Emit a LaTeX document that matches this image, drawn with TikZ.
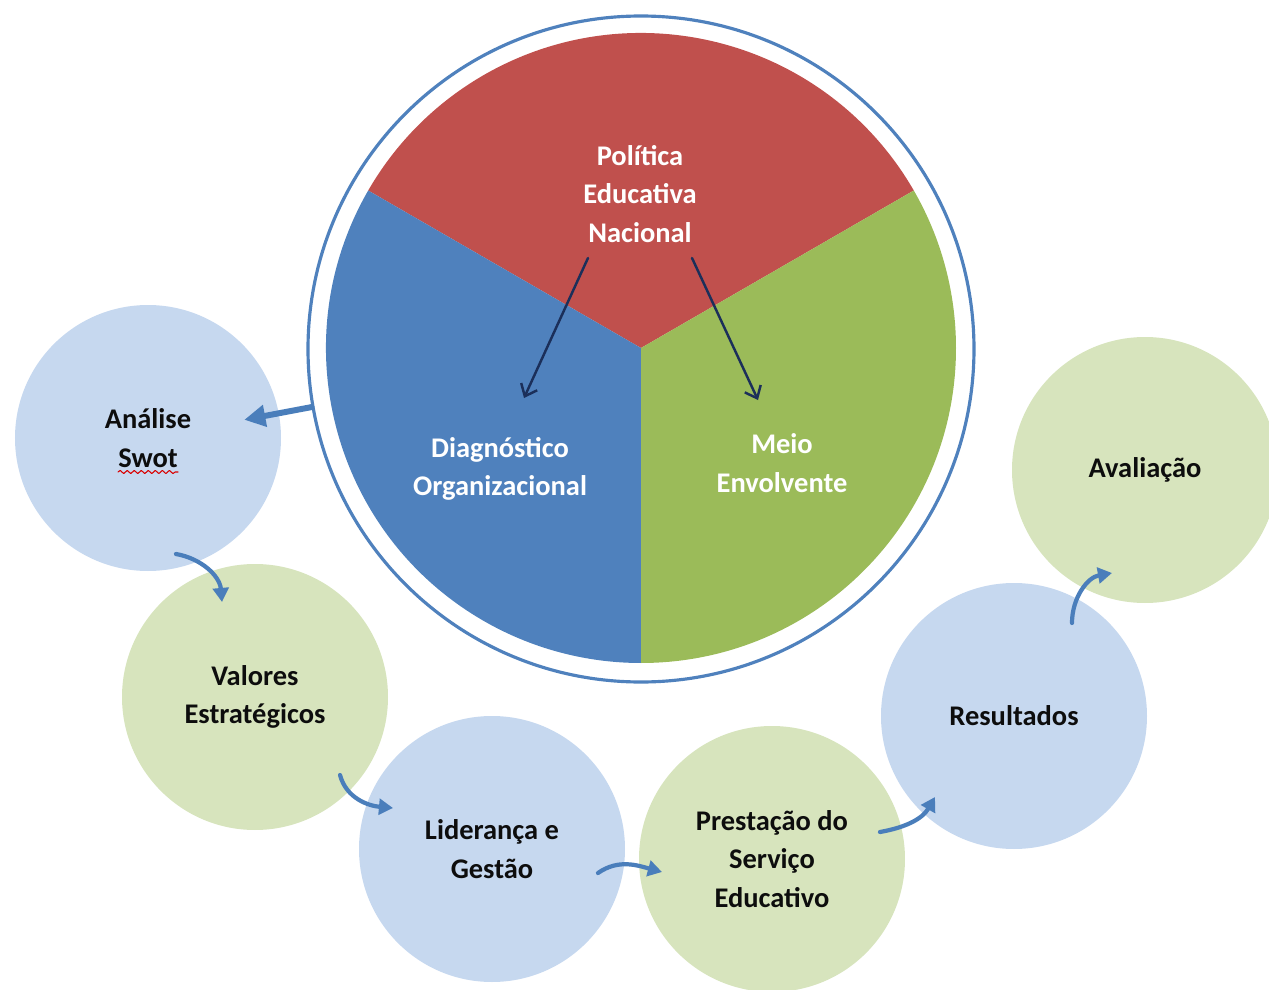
\documentclass[tikz,border=0pt]{standalone}
\usepackage{fontspec}
\setmainfont{Carlito}
\usetikzlibrary{arrows.meta,calc,decorations.pathmorphing}
\definecolor{piered}{HTML}{C0504D}
\definecolor{pieblue}{HTML}{4F81BD}
\definecolor{piegreen}{HTML}{9BBB59}
\definecolor{lblue}{HTML}{C6D8EF}
\definecolor{lgreen}{HTML}{D7E4BD}
\definecolor{arrblue}{HTML}{4A7EBB}
\definecolor{navy}{HTML}{1B2F5A}
\begin{document}
\begin{tikzpicture}[line join=round, line cap=round, >=Stealth,
  font=\fontsize{8.1}{10.9}\selectfont\bfseries,
  bubble/.style={circle, minimum size=2.66cm, inner sep=0pt, align=center, text=black!95},
  bblue/.style={bubble, fill=lblue},
  bgreen/.style={bubble, fill=lgreen},
  pietext/.style={text=white, align=center},
  flow/.style={draw=arrblue, line width=1.2pt, -{Triangle[length=4pt,width=4.5pt]}},
  bigflow/.style={draw=arrblue, line width=1.7pt, -{Triangle[length=6pt,width=6pt]}},
  thin/.style={draw=navy, line width=0.7pt, -{Straight Barb[length=3pt,width=5pt]}}]
\useasboundingbox (0,0) rectangle (12.69,-9.90);
% pie
\coordinate (c) at (6.41,-3.48);
\fill[piered] (c) -- ++(30:3.15) arc(30:150:3.15) -- cycle;
\fill[pieblue] (c) -- ++(150:3.15) arc(150:270:3.15) -- cycle;
\fill[piegreen] (c) -- ++(270:3.15) arc(270:390:3.15) -- cycle;
\node[circle, draw=pieblue, line width=0.9pt, minimum size=6.66cm, inner sep=0pt] (ring) at (6.41,-3.49) {};
\node[pietext] (pol) at (6.40,-1.94) {Política\\Educativa\\Nacional};
\node[pietext] (diag) at (5.00,-4.69) {Diagnóstico\\Organizacional};
\node[pietext] (meio) at (7.82,-4.63) {Meio\\Envolvente};
\draw[thin] ($(pol)+(-0.52,-0.64)$) -- ($(diag)+(0.24,0.71)$);
\draw[thin] ($(pol)+(0.52,-0.64)$) -- ($(meio)+(-0.24,0.63)$);
% cycle
\node[bblue] (swot) at (1.48,-4.38) {Análise\\Swot};
\node[bgreen] (valores) at (2.55,-6.97) {Valores\\Estratégicos};
\node[bblue] (lider) at (4.92,-8.49) {Liderança e\\Gestão};
\node[bgreen] (prest) at (7.72,-8.59) {Prestação do\\Serviço\\Educativo};
\node[bblue] (result) at (10.14,-7.16) {Resultados};
\node[bgreen] (aval) at (11.45,-4.70) {Avaliação};
\draw[red!85!black, line width=0.3pt, decorate, decoration={snake, amplitude=0.45pt, segment length=2pt}]
  ($(swot)+(-0.30,-0.34)$) -- ($(swot)+(0.30,-0.34)$);
\draw[bigflow, shorten >=0.98cm] (ring.190) -- (swot.center);
\draw[flow] ($(swot)+(0.28,-1.16)$) to[out=-10,in=95] ($(valores)+(-0.33,0.95)$);
\draw[flow] ($(valores)+(0.85,-0.78)$) to[out=-75,in=175] ($(lider)+(-0.99,0.41)$);
\draw[flow] ($(lider)+(1.06,-0.24)$) to[out=35,in=165] ($(prest)+(-1.10,-0.13)$);
\draw[flow] ($(prest)+(1.08,0.27)$) to[out=10,in=-120] ($(result)+(-0.79,-0.81)$);
\draw[flow] ($(result)+(0.58,0.93)$) to[out=90,in=190] ($(aval)+(-0.33,-1.03)$);
\end{tikzpicture}
\end{document}
